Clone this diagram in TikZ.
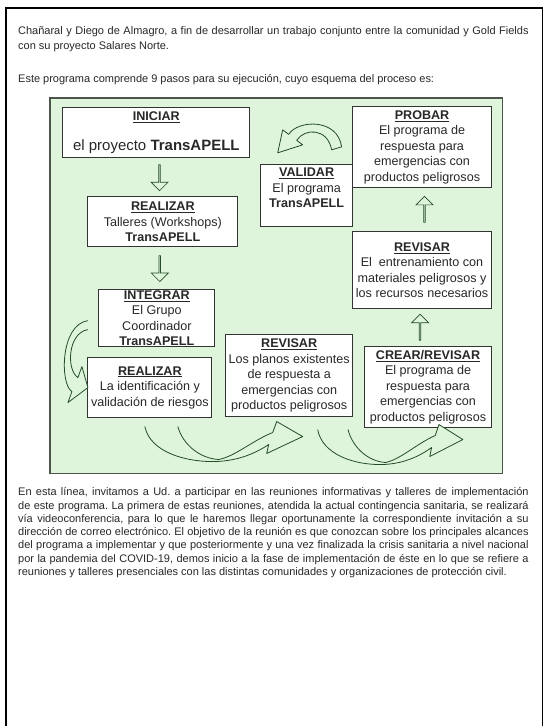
\documentclass[tikz,border=0pt]{standalone}
\usepackage{fontspec}
\setmainfont{Liberation Sans}
\usetikzlibrary{positioning,shapes.arrows,calc}

\definecolor{fondo}{RGB}{222,245,219}
\definecolor{borde}{RGB}{75,85,75}
\definecolor{verdeosc}{RGB}{35,75,40}
\definecolor{texto}{RGB}{40,40,40}

\begin{document}
\frenchspacing
\begin{tikzpicture}[x=1pt,y=-1pt,
  paso/.style={draw=black!80,fill=white,line width=0.9pt,align=center,inner sep=0pt,text=texto,font=\fontsize{12.6}{15.5}\selectfont},
  flecha/.style={single arrow,draw=verdeosc,fill=fondo,line width=0.7pt,inner sep=0pt,minimum width=17pt,single arrow head extend=3.5pt,minimum height=26pt},
  curva/.style={draw=verdeosc,fill=fondo,line width=0.8pt,line join=round},
  parrafo/.style={anchor=north west,inner sep=0pt,align=left,text=texto,font=\fontsize{11}{13.3}\selectfont},
  curvaU/.pic={
    \filldraw[curva] (0,0) .. controls (5,25) and (40,36) .. (72,35)
      .. controls (95,34) and (112,26) .. (124,18) -- (122,27) -- (158,10) -- (132,-5) -- (128,6)
      .. controls (108,14) and (90,30) .. (74,33) .. controls (55,32) and (38,18) .. (33,0);
  }]

% hoja
\fill[white] (0,0) rectangle (550,727);
\draw[line width=1.6pt] (6,727) -- (6,8) -- (543,8) -- (543,727);

\node[parrafo,font=\fontsize{11}{15.5}\selectfont] (intro) at (18,26) {\makebox[511pt][s]{Chañaral y Diego de Almagro, a fin de desarrollar un trabajo conjunto entre la comunidad y Gold Fields}\\con su proyecto Salares Norte.};
\node[parrafo] (esquema) at (18,74) {Este programa comprende 9 pasos para su ejecución, cuyo esquema del proceso es:};

% esquema TransAPELL
\node[draw=borde,fill=fondo,line width=1.4pt,minimum width=453pt,minimum height=376pt] (panel) at (276.5,286) {};

\node[paso,minimum width=187pt,minimum height=50pt] (iniciar) at (156.5,133) {\underline{\textbf{INICIAR}}\\[14pt]{\fontsize{15}{17}\selectfont el proyecto \textbf{TransAPELL}}};
\node[paso,minimum width=150pt,minimum height=50pt] (talleres) at (163,222) {\underline{\textbf{REALIZAR}}\\Talleres (Workshops)\\\textbf{TransAPELL}};
\node[paso,minimum width=116pt,minimum height=57pt] (integrar) at (157,318.5) {\underline{\textbf{INTEGRAR}}\\El Grupo\\Coordinador\\\textbf{TransAPELL}};
\node[paso,minimum width=124pt,minimum height=60pt] (riesgos) at (150,388) {\underline{\textbf{REALIZAR}}\\La identificación y\\validación de riesgos};
\node[paso,minimum width=127pt,minimum height=82pt] (planos) at (289.5,376) {\underline{\textbf{REVISAR}}\\Los planos existentes\\de respuesta a\\emergencias con\\productos peligrosos};
\node[paso,minimum width=127pt,minimum height=81pt] (crear) at (428.5,387.5) {\underline{\textbf{CREAR/REVISAR}}\\El programa de\\respuesta para\\emergencias con\\productos peligrosos};
\node[paso,minimum width=139pt,minimum height=77pt] (entrenar) at (422.5,270.5) {\underline{\textbf{REVISAR}}\\El~ entrenamiento con\\materiales peligrosos y\\los recursos necesarios};
\node[paso,minimum width=139pt,minimum height=81pt] (probar) at (422.5,147.5) {\underline{\textbf{PROBAR}}\\El programa de\\respuesta para\\emergencias con\\productos peligrosos};
\node[paso,minimum width=92pt,minimum height=62pt] (validar) at (307,196) {\underline{\textbf{VALIDAR}}\\El programa\\\textbf{TransAPELL}\\\mbox{}};

% flechas rectas
\node[flecha,rotate=-90] (f1) at ($(iniciar.south)!0.5!(talleres.north)$) {};
\node[flecha,rotate=-90] (f2) at ($(talleres.south)!0.5!(integrar.north)$) {};
\node[flecha,rotate=90] (f3) at ($(entrenar.south)!0.5!(crear.north)+(-5,0)$) {};
\node[flecha,rotate=90] (f4) at ($(probar.south)!0.5!(entrenar.north)+(2.5,0)$) {};

% flechas curvas
\filldraw[curva] (88,321) .. controls (60,325) and (60,385) .. (72,392) -- (68,403) -- (88,388) -- (82,367) -- (78,378)
  .. controls (66,370) and (68,333) .. (88,330);
\pic at (145,427) {curvaU};
\pic[xscale=0.92] at (318,430) {curvaU};
\filldraw[curva] (342,147) .. controls (338,118) and (298,120) .. (289,134.5) -- (283,130) -- (278,153) -- (303,145) -- (297,140.5)
  .. controls (305,128) and (328,128) .. (332,150) -- cycle;

\node[parrafo] (texto) at (18,488) {%
\makebox[511pt][s]{En esta línea, invitamos a Ud. a participar en las reuniones informativas y talleres de implementación}\\
\makebox[511pt][s]{de este programa. La primera de estas reuniones, atendida la actual contingencia sanitaria, se realizará}\\
\makebox[511pt][s]{vía videoconferencia, para lo que le haremos llegar oportunamente la correspondiente invitación a su}\\
\makebox[511pt][s]{dirección de correo electrónico. El objetivo de la reunión es que conozcan sobre los principales alcances}\\
\makebox[511pt][s]{del programa a implementar y que posteriormente y una vez finalizada la crisis sanitaria a nivel nacional}\\
\makebox[511pt][s]{por la pandemia del COVID-19, demos inicio a la fase de implementación de éste en lo que se refiere a}\\
reuniones y talleres presenciales con las distintas comunidades y organizaciones de protección civil.};
\end{tikzpicture}
\end{document}
